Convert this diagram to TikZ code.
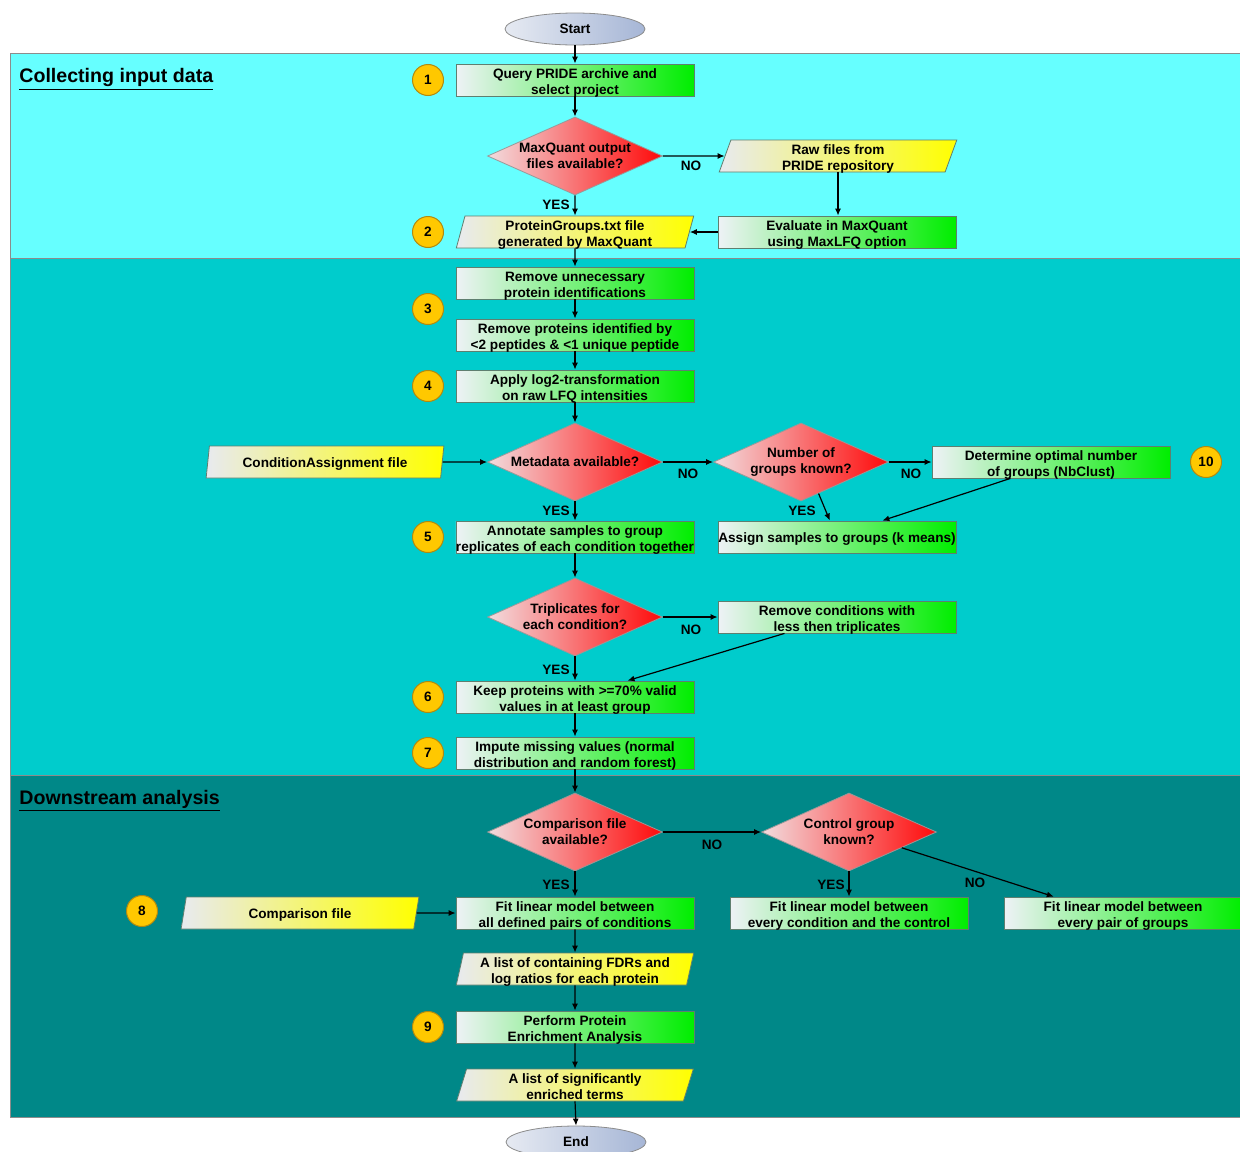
\documentclass[tikz,border=0pt]{standalone}
\usepackage{fontspec}
\setmainfont{Liberation Sans}
\usetikzlibrary{shapes.geometric,arrows.meta,calc}
\definecolor{bandA}{HTML}{66FFFF}
\definecolor{bandB}{HTML}{00CCCC}
\definecolor{bandC}{HTML}{008888}
\definecolor{procL}{HTML}{EEF2F6}
\definecolor{procR}{HTML}{00EE00}
\definecolor{ioL}{HTML}{E8EAF0}
\definecolor{ioR}{HTML}{FFFF00}
\definecolor{decL}{HTML}{F2DCDE}
\definecolor{decR}{HTML}{FF0A0A}
\definecolor{termL}{HTML}{E6EAF2}
\definecolor{termR}{HTML}{A6B6D6}
\definecolor{circF}{HTML}{FFC800}
\definecolor{circD}{HTML}{B08A10}
\definecolor{edgeC}{HTML}{5F7F70}
\begin{document}
\begin{tikzpicture}[x=0.5pt,y=-0.5pt,
  txt/.style={font=\bfseries\fontsize{6.8}{8}\selectfont, align=center, text=black},
  proc/.style={txt, rectangle, draw=edgeC, line width=0.4pt, left color=procL, right color=procR,
    minimum width=119pt, minimum height=16pt, inner sep=0pt, text height=14.3pt, text depth=0pt},
  io/.style={txt, trapezium, trapezium left angle=78, trapezium right angle=102, trapezium stretches=true,
    draw=edgeC, line width=0.4pt, left color=ioL, right color=ioR,
    minimum width=119pt, minimum height=16pt, inner sep=0pt, text height=14.3pt, text depth=0pt},
  one/.style={text height=5.5pt, text depth=0pt},
  dec/.style={txt, diamond, draw=black!40, line width=0.4pt, left color=decL, right color=decR,
    minimum width=87.5pt, minimum height=39pt, inner sep=0pt, aspect=2.2},
  term/.style={txt, ellipse, draw=black!45, line width=0.4pt, left color=termL, right color=termR,
    minimum width=70pt, minimum height=16pt, inner sep=0pt},
  num/.style={txt, circle, draw=circD, line width=0.5pt, fill=circF, minimum size=15.5pt, inner sep=0pt},
  lbl/.style={txt},
  ttl/.style={font=\bfseries\fontsize{9.8}{11}\selectfont, anchor=base west, inner sep=0pt},
  arr/.style={-{Latex[length=3.5pt,width=3pt]}, line width=0.6pt, black}
]
\useasboundingbox (0,0) rectangle (1240,1151);
\fill[white] (0,0) rectangle (1240,1151);
% bands
\fill[bandA] (10,53) rectangle (1240,258);
\fill[bandB] (10,258) rectangle (1240,775);
\fill[bandC] (10,775) rectangle (1240,1117);
\draw[black!45, line width=0.5pt] (1240,53) -- (10,53) -- (10,1117) -- (1240,1117);
\draw[black!45, line width=0.5pt] (10,258) -- (1240,258);
\draw[black!45, line width=0.5pt] (10,775) -- (1240,775);
\node[ttl] (t1) at (19,82) {\underline{Collecting input data}};
\node[ttl] (t2) at (19,804) {\underline{Downstream analysis}};

% nodes
\node[term] (start) at (575,29) {Start};
\node[proc] (query) at (575,80) {Query PRIDE archive and\\select project};
\node[num] (n1) at (428,80) {1};
\node[dec] (d1) at (575,156) {MaxQuant output\\files available?};
\node[io] (raw) at (838,156) {Raw files from\\PRIDE repository};
\node[proc] (eval) at (837,232) {Evaluate in MaxQuant\\using MaxLFQ option};
\node[io] (pg) at (575,232) {ProteinGroups.txt file\\generated by MaxQuant};
\node[num] (n2) at (428,232) {2};
\node[proc] (rmu) at (575,283) {Remove unnecessary\\protein identifications};
\node[num] (n3) at (428,309) {3};
\node[proc] (rmp) at (575,335) {Remove proteins identified by\\<2 peptides \& <1 unique peptide};
\node[num] (n4) at (428,386) {4};
\node[proc] (lg) at (575,386) {Apply log2-transformation\\on raw LFQ intensities};
\node[io, one] (ca) at (325,462) {ConditionAssignment file};
\node[dec] (meta) at (575,462) {Metadata available?};
\node[dec] (ng) at (801,462) {Number of\\groups known?};
\node[proc] (det) at (1051,462) {Determine optimal number\\of groups (NbClust)};
\node[num] (n10) at (1206,462) {10};
\node[proc, one] (asg) at (837,537) {Assign samples to groups (k means)};
\node[num] (n5) at (428,537) {5};
\node[proc] (ann) at (575,537) {Annotate samples to group\\replicates of each condition together};
\node[dec] (tri) at (575,617) {Triplicates for\\each condition?};
\node[proc] (rmc) at (837,617) {Remove conditions with\\less then triplicates};
\node[num] (n6) at (428,697) {6};
\node[proc] (keep) at (575,697) {Keep proteins with >=70\% valid\\values in at least group};
\node[num] (n7) at (428,753) {7};
\node[proc] (imp) at (575,753) {Impute missing values (normal\\distribution and random forest)};
\node[dec] (cmp) at (575,832) {Comparison file\\available?};
\node[dec] (ctl) at (849,832) {Control group\\known?};
\node[num] (n8) at (142,911) {8};
\node[io, one] (cf) at (300,913) {Comparison file};
\node[proc] (fitall) at (575,913) {Fit linear model between\\all defined pairs of conditions};
\node[proc] (fitctl) at (849,913) {Fit linear model between\\every condition and the control};
\node[proc] (fitpair) at (1123,913) {Fit linear model between\\every pair of groups};
\node[io] (fdr) at (575,969) {A list of containing FDRs and\\log ratios for each protein};
\node[num] (n9) at (428,1027) {9};
\node[proc] (pea) at (575,1027) {Perform Protein\\Enrichment Analysis};
\node[io] (terms) at (575,1085) {A list of significantly\\enriched terms};
\node[term] (end) at (576,1142) {End};

% labels
\node[lbl] (l1) at (691,166) {NO};
\node[lbl] (l2) at (556,205) {YES};
\node[lbl] (l3) at (688,474) {NO};
\node[lbl] (l4) at (556,511) {YES};
\node[lbl] (l5) at (911,474) {NO};
\node[lbl] (l6) at (802,511) {YES};
\node[lbl] (l7) at (691,630) {NO};
\node[lbl] (l8) at (556,670) {YES};
\node[lbl] (l9) at (712,845) {NO};
\node[lbl] (l10) at (556,885) {YES};
\node[lbl] (l11) at (831,885) {YES};
\node[lbl] (l12) at (975,883) {NO};

% connectors
\draw[arr] (start.south) -- (query.north);
\draw[arr] (query.south) -- (d1.north);
\draw[arr] (d1.south) -- (pg.north);
\draw[arr] (d1.east) -- (raw.west);
\draw[arr] (raw.south) -- (raw.south |- eval.north);
\draw[arr] (eval.west) -- (pg.east);
\draw[arr] (pg.south) -- (rmu.north);
\draw[arr] (rmu.south) -- (rmp.north);
\draw[arr] (rmp.south) -- (lg.north);
\draw[arr] (lg.south) -- (meta.north);
\draw[arr] (ca.east) -- (meta.west);
\draw[arr] (meta.east) -- (ng.west);
\draw[arr] (ng.east) -- (det.west);
\draw[arr] (meta.south) -- (ann.north);
\draw[arr] ($(ng.south)!0.2!(ng.east)$) -- ($(asg.north west)!0.47!(asg.north east)$);
\draw[arr] ($(det.south west)!0.33!(det.south east)$) -- ($(asg.north west)!0.69!(asg.north east)$);
\draw[arr] (ann.south) -- (tri.north);
\draw[arr] (tri.east) -- (rmc.west);
\draw[arr] (tri.south) -- (keep.north);
\draw[arr] ($(rmc.south west)!0.28!(rmc.south east)$) -- ($(keep.north west)!0.72!(keep.north east)$);
\draw[arr] (keep.south) -- (imp.north);
\draw[arr] (imp.south) -- (cmp.north);
\draw[arr] (cmp.east) -- (ctl.west);
\draw[arr] (cmp.south) -- (fitall.north);
\draw[arr] (cf.east) -- (fitall.west);
\draw[arr] (ctl.south) -- (fitctl.north);
\draw[arr] ($(ctl.south)!0.6!(ctl.east)$) -- ($(fitpair.north west)!0.21!(fitpair.north east)$);
\draw[arr] (fitall.south) -- (fdr.north);
\draw[arr] (fdr.south) -- (pea.north);
\draw[arr] (pea.south) -- (terms.north);
\draw[arr] (terms.south) -- (end.north);
\end{tikzpicture}
\end{document}
